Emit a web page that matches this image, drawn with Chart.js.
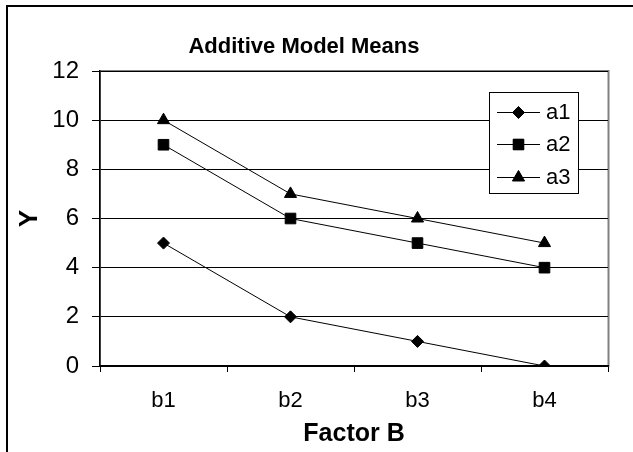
<!DOCTYPE html>
<html>
<head>
<meta charset="utf-8">
<title>Additive Model Means</title>
<script src="https://cdn.jsdelivr.net/npm/chart.js@4/dist/chart.umd.min.js"></script>
<style>
  body { margin: 0; background: #fff; }
  canvas { display: block; }
</style>
</head>
<body>
<canvas id="mycanvas" width="633" height="452"></canvas>
<script>
var factorB = ['b1', 'b2', 'b3', 'b4'];
var a1 = [5, 2, 1, 0];
var a2 = [9, 6, 5, 4];
var a3 = [10, 7, 6, 5];
var seriesNames = ['a1', 'a2', 'a3'];

var fontFamily = "'Liberation Sans', Arial, sans-serif";
Chart.defaults.font.family = fontFamily;
Chart.defaults.color = '#000';

// frame around the whole chart + grey border of the plot area
var framePlugin = {
  id: 'frame',
  beforeDraw: function(chart) {
    var ctx = chart.ctx;
    var a = chart.chartArea;
    ctx.save();
    ctx.fillStyle = '#fff';
    ctx.fillRect(0, 0, chart.width, chart.height);
    ctx.strokeStyle = '#000';
    ctx.lineWidth = 2;
    ctx.strokeRect(7, 6, chart.width + 20, chart.height + 20);
    ctx.strokeStyle = '#808080';
    ctx.lineWidth = 2;
    ctx.strokeRect(a.left, a.top, a.right - a.left + 0.5, a.bottom - a.top);
    ctx.restore();
  }
};

// boxed legend sitting inside the plot area
var boxLegend = {
  id: 'boxLegend',
  afterDraw: function(chart) {
    var ctx = chart.ctx;
    ctx.save();
    ctx.fillStyle = '#fff';
    ctx.fillRect(489, 92, 89, 101);
    ctx.strokeStyle = '#000';
    ctx.lineWidth = 1;
    ctx.strokeRect(489.5, 92.5, 89, 101);
    ctx.font = '22px ' + fontFamily;
    ctx.textBaseline = 'middle';
    var ys = [112, 144, 177];
    chart.data.datasets.forEach(function(ds, i) {
      var y = ys[i];
      ctx.beginPath();
      ctx.moveTo(497, y + 0.5);
      ctx.lineTo(540, y + 0.5);
      ctx.strokeStyle = '#000';
      ctx.lineWidth = 1;
      ctx.stroke();
      ctx.fillStyle = '#000';
      Chart.helpers.drawPoint(ctx, {
        pointStyle: ds.pointStyle,
        radius: ds.pointRadius,
        borderWidth: 1
      }, 518.5, y + 0.5);
      ctx.fill();
      ctx.fillText(ds.label, 546, y + 1);
    });
    ctx.restore();
  }
};

var chartdata = {
  labels: factorB,
  datasets: [
    { label: seriesNames[0], data: a1, pointStyle: 'rectRot', pointRadius: 6 },
    { label: seriesNames[1], data: a2, pointStyle: 'rect', pointRadius: 7.5 },
    { label: seriesNames[2], data: a3, pointStyle: 'triangle', pointRadius: 7 }
  ].map(function(ds) {
    ds.borderColor = '#000';
    ds.backgroundColor = '#000';
    ds.borderWidth = 1;
    ds.pointBorderWidth = 1;
    ds.pointBorderColor = '#000';
    ds.pointBackgroundColor = '#000';
    ds.tension = 0;
    return ds;
  })
};

var ctx = document.getElementById('mycanvas');
var lineGraph = new Chart(ctx, {
  type: 'line',
  data: chartdata,
  plugins: [framePlugin, boxLegend],
  options: {
    responsive: false,
    animation: false,
    layout: { padding: { top: 0, left: 0, right: 25, bottom: 0 } },
    plugins: {
      legend: { display: false },
      tooltip: { enabled: false },
      title: {
        display: true,
        text: 'Additive Model Means',
        color: '#000',
        font: { size: 22, weight: 'bold' },
        padding: { top: 33.8, bottom: 10.8 }
      }
    },
    scales: {
      x: {
        offset: true,
        afterFit: function(scale) { scale.height = 86; },
        grid: { offset: true, drawOnChartArea: false, color: '#000', tickLength: 6 },
        border: { color: '#000', width: 1.5 },
        ticks: { color: '#000', font: { size: 22 }, padding: 16, maxRotation: 0 },
        title: {
          display: true,
          text: 'Factor B',
          color: '#000',
          font: { size: 25, weight: 'bold' },
          padding: { top: 0, bottom: 2.5 }
        }
      },
      y: {
        min: 0,
        max: 12,
        afterFit: function(scale) { scale.width = 100; },
        grid: { color: '#000', tickLength: 8 },
        border: { color: '#000', width: 1.5 },
        ticks: { stepSize: 2, color: '#000', font: { size: 24 }, padding: 13 },
        title: {
          display: true,
          text: 'Y',
          color: '#000',
          font: { size: 26, weight: 'bold' },
          padding: { top: 14.4, bottom: 0 }
        }
      }
    }
  }
});
</script>
</body>
</html>
